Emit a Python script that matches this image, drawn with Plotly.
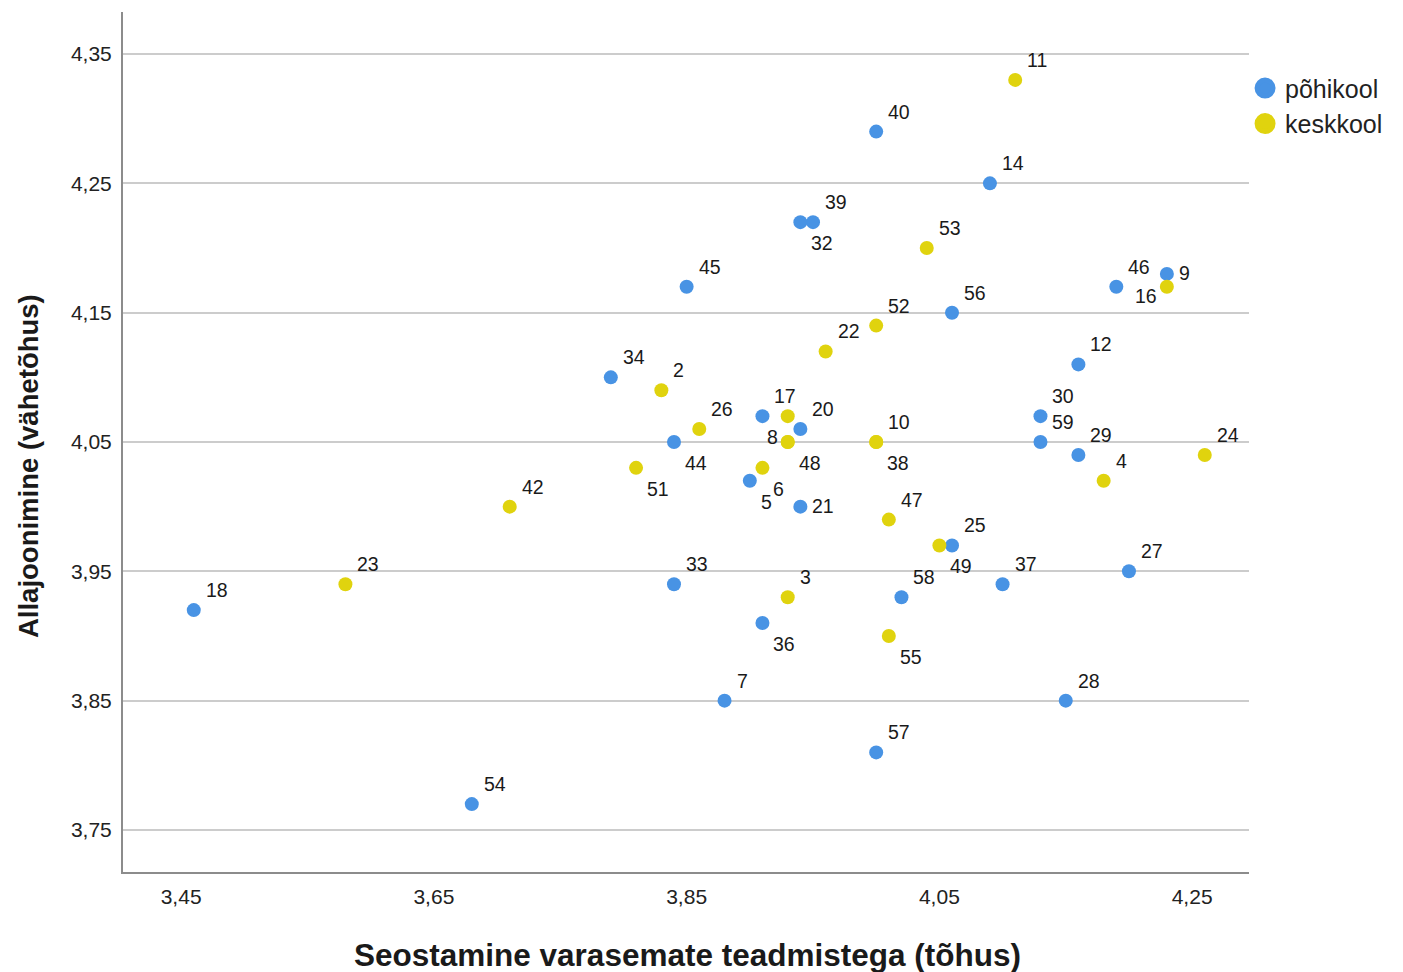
import plotly.graph_objects as go

# ---- data ----
blue_ids = ["18","54","34","44","33","45","7","5","17","36","32","39","20","21","40","57","58","56","25","14","37","30","59","12","29","28","46","27","9"]
blue_x = [3.46,3.68,3.79,3.84,3.84,3.85,3.88,3.90,3.91,3.91,3.94,3.95,3.94,3.94,4.00,4.00,4.02,4.06,4.06,4.09,4.10,4.13,4.13,4.16,4.16,4.15,4.19,4.20,4.23]
blue_y = [3.92,3.77,4.10,4.05,3.94,4.17,3.85,4.02,4.07,3.91,4.22,4.22,4.06,4.00,4.29,3.81,3.93,4.15,3.97,4.25,3.94,4.07,4.05,4.11,4.04,3.85,4.17,3.95,4.18]
blue_pos = ["tr","tr","tr","br","tr","tr","tr","br","tr","br","br","tr","tr","r","tr","tr","tr","tr","tr","tr","tr","tr","tr","tr","tr","tr","tr","tr","r"]

yel_ids = ["23","42","51","2","26","6","8","48","","3","22","52","10","38","47","55","53","49","11","4","16","24"]
yel_x = [3.58,3.71,3.81,3.83,3.86,3.91,3.93,3.93,3.93,3.93,3.96,4.00,4.00,4.00,4.01,4.01,4.04,4.05,4.11,4.18,4.23,4.26]
yel_y = [3.94,4.00,4.03,4.09,4.06,4.03,4.05,4.05,4.07,3.93,4.12,4.14,4.05,4.05,3.99,3.90,4.20,3.97,4.33,4.02,4.17,4.04]
yel_pos = ["tr","tr","br","tr","tr","br","l","br","","tr","tr","tr","tr","br","tr","br","tr","br","tr","tr","l2","tr"]

x_ticks = [3.45, 3.65, 3.85, 4.05, 4.25]
y_ticks = [3.75, 3.85, 3.95, 4.05, 4.15, 4.25, 4.35]

BLUE = "#4893E4"
YELLOW = "#E0D30E"
FONT = "Liberation Sans, Arial, sans-serif"

# label offsets (px): xanchor, xshift, yshift
POS = {
    "tr": ("left", 10, 20),
    "br": ("left", 9, -21),
    "r": ("left", 10, 1),
    "l": ("right", -8, 5),
    "l2": ("right", -8, -9),
}

fig = go.Figure()
fig.add_trace(go.Scatter(x=blue_x, y=blue_y, mode="markers", name="põhikool",
                         showlegend=False,
                         marker=dict(color=BLUE, size=14, line=dict(width=0))))
fig.add_trace(go.Scatter(x=yel_x, y=yel_y, mode="markers", name="keskkool",
                         showlegend=False,
                         marker=dict(color=YELLOW, size=14, line=dict(width=0))))
# legend entries (larger symbols, as in the reference)
fig.add_trace(go.Scatter(x=[None], y=[None], mode="markers", name="põhikool",
                         marker=dict(color=BLUE, size=16, line=dict(width=5, color=BLUE))))
fig.add_trace(go.Scatter(x=[None], y=[None], mode="markers", name="keskkool",
                         marker=dict(color=YELLOW, size=16, line=dict(width=5, color=YELLOW))))

annotations = []
for ids, xs, ys, ps in [(blue_ids, blue_x, blue_y, blue_pos), (yel_ids, yel_x, yel_y, yel_pos)]:
    for t, x, y, p in zip(ids, xs, ys, ps):
        if not t:
            continue
        xa, xs_, ys_ = POS[p]
        annotations.append(dict(x=x, y=y, xref="x", yref="y", text=t, showarrow=False,
                                xanchor=xa, yanchor="middle", xshift=xs_, yshift=ys_,
                                font=dict(family=FONT, size=19.5, color="#1a1a1a")))

annotations.append(dict(x=0.501, y=-0.0965, xref="paper", yref="paper",
                        text="<b>Seostamine varasemate teadmistega (tõhus)</b>",
                        showarrow=False, xanchor="center", yanchor="middle",
                        font=dict(family=FONT, size=31.5, color="#1a1a1a")))
annotations.append(dict(x=-0.0844, y=0.472, xref="paper", yref="paper",
                        text="<b>Allajoonimine (vähetõhus)</b>", textangle=-90,
                        showarrow=False, xanchor="center", yanchor="middle",
                        font=dict(family=FONT, size=27.5, color="#1a1a1a")))

fig.update_layout(
    width=1403, height=972,
    margin=dict(l=115, r=162, t=4, b=108),
    paper_bgcolor="white", plot_bgcolor="white",
    separators=", ",
    font=dict(family=FONT, color="#222"),
    annotations=annotations,
    showlegend=True,
    legend=dict(x=0.9965, y=0.938, xanchor="left", yanchor="top",
                font=dict(family=FONT, size=25, color="#222"),
                tracegroupgap=0, bgcolor="rgba(0,0,0,0)"),
)
fig.update_xaxes(range=[3.404, 4.295], tickvals=x_ticks, tickformat=".2f",
                 showgrid=False, zeroline=False, showline=True, linecolor="#8c8c8c",
                 linewidth=2, ticks="", ticklabelstandoff=5,
                 tickfont=dict(family=FONT, size=21, color="#222"))
fig.update_yaxes(range=[3.7175, 4.3825], tickvals=y_ticks, tickformat=".2f",
                 showgrid=True, gridcolor="#cccccc", gridwidth=2, zeroline=False,
                 showline=True, linecolor="#8c8c8c", linewidth=2, ticks="",
                 ticklabelstandoff=5,
                 tickfont=dict(family=FONT, size=21, color="#222"))

fig.write_html("out.html")
